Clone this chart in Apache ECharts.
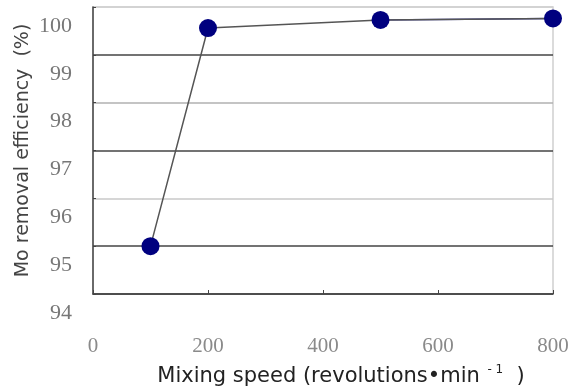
<!DOCTYPE html>
<html>
<head>
<meta charset="utf-8">
<script src="https://cdn.jsdelivr.net/npm/echarts@6/dist/echarts.min.js"></script>
<style>
  html, body { margin: 0; padding: 0; background: #fff; }
  #container { width: 570px; height: 391px; }
</style>
</head>
<body>
<div id="container"></div>
<script>
// mixing speed (rpm) vs Mo removal efficiency (%)
var speeds = [100, 200, 500, 800];
var efficiency = [95.0, 99.56, 99.73, 99.76];
var xTicks = [0, 200, 400, 600, 800];
var yTicks = [94, 95, 96, 97, 98, 99, 100];

var points = speeds.map(function (s, i) { return [s, efficiency[i]]; });

var dom = document.getElementById("container");
var myChart = echarts.init(dom);

var option = {
    backgroundColor: '#fff',
    animation: false,
    grid: {
        left: 93,
        right: 17,
        top: 7,
        bottom: 97,
        containLabel: false,
        outerBoundsMode: 'none',
        show: true,
        borderColor: '#cfcfcf',
        borderWidth: 1.5
    },
    xAxis: {
        type: 'value',
        min: xTicks[0],
        max: xTicks[xTicks.length - 1],
        interval: 200,
        name: 'Mixing speed (revolutions•min{sup|  - 1}  )',
        nameLocation: 'middle',
        nameGap: 70,
        nameMoveOverlap: false,
        nameTextStyle: {
            fontFamily: 'DejaVu Sans',
            fontSize: 21,
            color: '#222',
            padding: [0, 0, 0, 36],
            rich: {
                sup: { fontSize: 12, verticalAlign: 'top', padding: [0, 0, 14, 0], color: '#222' }
            }
        },
        axisLine: { lineStyle: { color: '#444', width: 1.5 } },
        axisTick: { show: true, inside: true, length: 4, lineStyle: { color: '#444' } },
        axisLabel: {
            margin: 42,
            fontFamily: 'Liberation Serif',
            fontSize: 21,
            color: '#8a8a8a'
        },
        splitLine: { show: false }
    },
    yAxis: {
        type: 'value',
        min: yTicks[0],
        max: yTicks[yTicks.length - 1],
        interval: 1,
        name: 'Mo removal efficiency  (%)',
        nameLocation: 'middle',
        nameGap: 60,
        nameMoveOverlap: false,
        nameTextStyle: {
            fontFamily: 'DejaVu Sans',
            fontSize: 19,
            color: '#444'
        },
        axisLine: { show: true, lineStyle: { color: '#444', width: 1.5 } },
        axisTick: { show: true, inside: true, length: 3, lineStyle: { color: '#444' } },
        axisLabel: {
            margin: 21,
            fontFamily: 'Liberation Serif',
            fontSize: 22,
            color: '#777',
            verticalAlign: 'top',
            lineHeight: 38
        },
        splitLine: {
            show: true,
            lineStyle: {
                color: ['#444', '#444', '#c8c8c8', '#444', '#b0b0b0', '#444', '#d0d0d0'],
                width: 1.5
            }
        }
    },
    series: [
        {
            name: 'efficiency',
            type: 'line',
            data: points,
            symbol: 'circle',
            symbolSize: 18,
            itemStyle: { color: '#00007f' },
            lineStyle: { color: '#555', width: 1.5 },
            z: 3
        },
        {
            name: 'tail',
            type: 'line',
            data: points.slice(2),
            symbol: 'none',
            lineStyle: { color: '#4040a0', width: 1.5 },
            z: 2
        }
    ]
};

myChart.setOption(option);
</script>
</body>
</html>
